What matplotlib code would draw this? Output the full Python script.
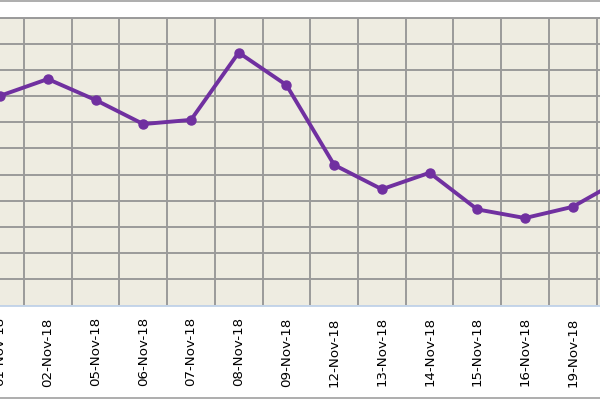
import matplotlib
matplotlib.use("Agg")
import matplotlib.pyplot as plt
from matplotlib.lines import Line2D

# dates on the category axis (20-Nov-18 sits just past the right edge)
dates = ['01-Nov-18', '02-Nov-18', '05-Nov-18', '06-Nov-18', '07-Nov-18',
         '08-Nov-18', '09-Nov-18', '12-Nov-18', '13-Nov-18', '14-Nov-18',
         '15-Nov-18', '16-Nov-18', '19-Nov-18', '20-Nov-18']
# values in gridline units (y axis labels are cropped out of the picture)
values = [8.01, 8.65, 7.85, 6.93, 7.09, 9.66, 8.42,
          5.37, 4.44, 5.07, 3.67, 3.34, 3.77, 4.80]

plt.rcParams['font.family'] = ['DejaVu Sans']

fig = plt.figure(figsize=(6, 4), dpi=100)
ax = fig.add_axes([0, 1 - 305.5 / 400, 1, (305.5 - 17.5) / 400])
ax.set_facecolor('#EEECE1')

x = list(range(len(dates)))
ax.plot(x, values, color='#7030A0', lw=2.8, marker='o', ms=6.5,
        solid_joinstyle='round', zorder=3)

ax.set_xticks(x)
ax.set_xticklabels(dates, rotation=90, fontsize=9.6)
ax.set_xticks([i + 0.5 for i in range(-1, len(dates))], minor=True)
ax.set_yticks(range(12))
ax.set_yticklabels([])
# left edge sits just before the first date so its cut label still shows
ax.set_xlim(-0.002, 12.571)
ax.set_ylim(0, 11)
ax.tick_params(axis='x', which='both', length=0, pad=8.5)
ax.tick_params(axis='y', length=0)
ax.grid(axis='x', which='minor', color='#9A9A9A', lw=1.4)
ax.grid(axis='y', which='major', color='#9A9A9A', lw=1.4)
ax.grid(axis='x', which='major', visible=False)

for s in ['left', 'right']:
    ax.spines[s].set_visible(False)
ax.spines['top'].set_color('#9A9A9A')
ax.spines['top'].set_linewidth(1.4)
ax.spines['bottom'].set_color('#C5D5EA')
ax.spines['bottom'].set_linewidth(1.4)

# chart-area border lines at top and bottom of the crop
fig.add_artist(Line2D([0, 1], [1 - 0.8 / 400] * 2, color='#A0A0A0', lw=1.2))
fig.add_artist(Line2D([0, 1], [1 - 398.3 / 400] * 2, color='#A0A0A0', lw=1.2))

fig.savefig('out.png', dpi=100)
